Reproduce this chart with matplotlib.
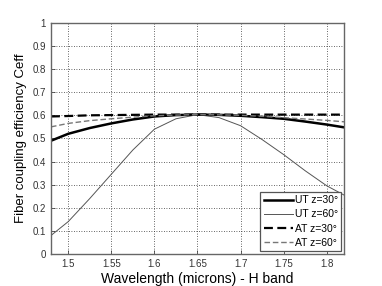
import matplotlib
matplotlib.use("Agg")
import matplotlib.pyplot as plt

# wavelength samples (microns)
wl = [1.48, 1.50, 1.525, 1.55, 1.575, 1.60, 1.625, 1.65, 1.675, 1.70, 1.725, 1.75, 1.775, 1.80, 1.82]

# coupling efficiency
ut30 = [0.490, 0.520, 0.545, 0.565, 0.582, 0.595, 0.601, 0.603, 0.602, 0.598, 0.592, 0.585, 0.573, 0.560, 0.548]
ut60 = [0.080, 0.140, 0.240, 0.345, 0.450, 0.540, 0.585, 0.603, 0.590, 0.555, 0.495, 0.430, 0.360, 0.295, 0.255]
at30 = [0.595, 0.597, 0.600, 0.601, 0.602, 0.603, 0.603, 0.603, 0.603, 0.603, 0.603, 0.603, 0.603, 0.603, 0.603]
at60 = [0.550, 0.565, 0.577, 0.585, 0.592, 0.598, 0.601, 0.603, 0.602, 0.600, 0.596, 0.590, 0.584, 0.578, 0.572]

labels = ["UT z=30\u00b0", "UT z=60\u00b0", "AT z=30\u00b0", "AT z=60\u00b0"]
xticks = [1.5, 1.55, 1.6, 1.65, 1.7, 1.75, 1.8]
yticks = [0, 0.1, 0.2, 0.3, 0.4, 0.5, 0.6, 0.7, 0.8, 0.9, 1]

plt.rcParams['font.family'] = ['Liberation Sans', 'DejaVu Sans']

fig = plt.figure(figsize=(3.82, 2.86), dpi=100)
ax = fig.add_axes([0.1335, 0.112, 0.767, 0.808])

ax.plot(wl, ut30, color="black", lw=1.8, ls="-", label=labels[0])
ax.plot(wl, ut60, color="#555555", lw=0.7, ls="-", label=labels[1])
ax.plot(wl, at30, color="black", lw=1.6, ls=(0, (4, 2)), label=labels[2])
ax.plot(wl, at60, color="#777777", lw=1.0, ls=(0, (4, 2)), label=labels[3])

ax.set_xlim(1.48, 1.82)
ax.set_ylim(0, 1)
ax.set_xticks(xticks)
ax.set_xticklabels(["1.5", "1.55", "1.6", "1.65", "1.7", "1.75", "1.8"])
ax.set_yticks(yticks)
ax.set_yticklabels(["0", "0.1", "0.2", "0.3", "0.4", "0.5", "0.6", "0.7", "0.8", "0.9", "1"])
ax.tick_params(labelsize=7, direction="in", length=3, width=0.6, colors="#444444", labelcolor="#333333")
ax.grid(True, ls=(0, (1, 2)), color="#333333", lw=0.6)
for s in ax.spines.values():
    s.set_color("#666666")
    s.set_linewidth(1.0)

ax.set_xlabel("Wavelength (microns) - H band", fontsize=10, labelpad=2)
ax.set_ylabel("Fiber coupling efficiency Ceff", fontsize=9.5, labelpad=4)

leg = ax.legend(loc="lower right", fontsize=7.5, frameon=True, fancybox=False,
                handlelength=2.8, handletextpad=0.15, borderpad=0.35,
                labelspacing=0.4, borderaxespad=0.25)
leg.get_frame().set_edgecolor("#555555")
leg.get_frame().set_linewidth(0.9)
leg.get_frame().set_alpha(1)

fig.savefig("out.png", dpi=100)
